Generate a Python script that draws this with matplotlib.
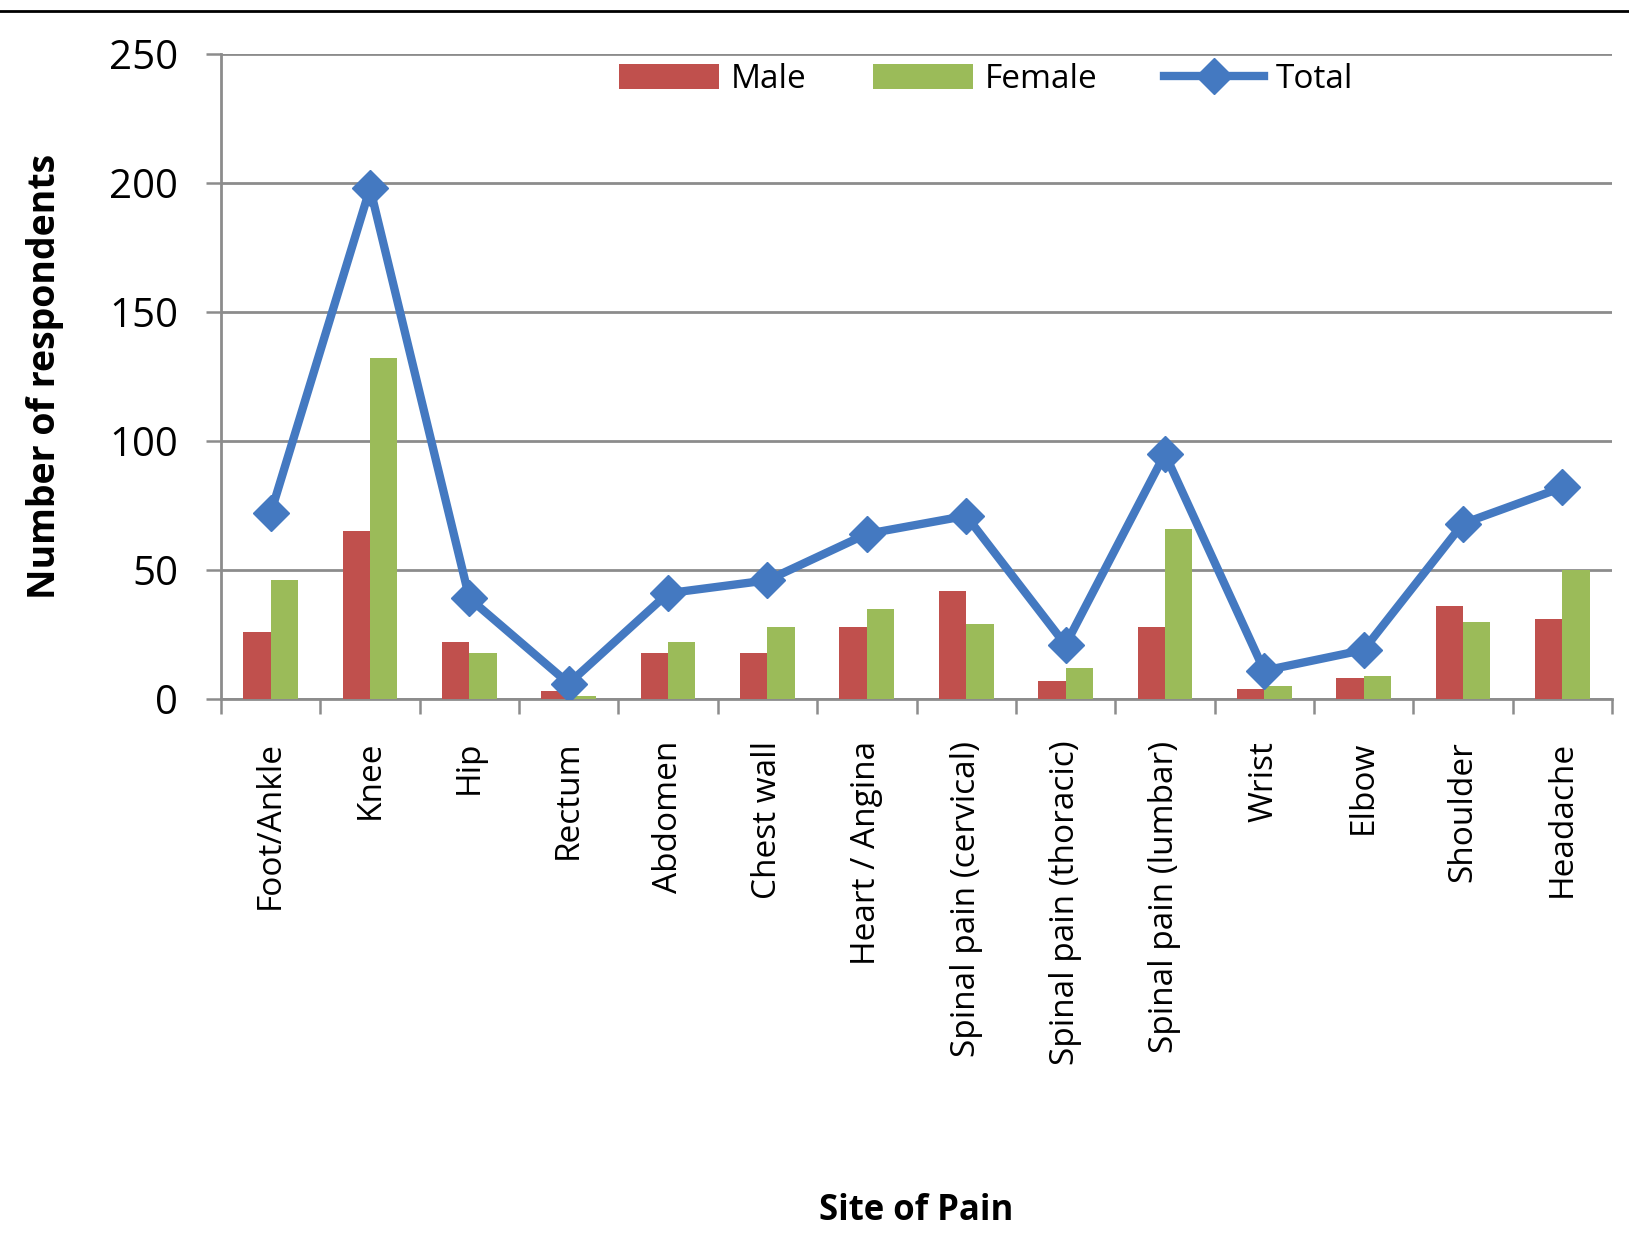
import matplotlib
matplotlib.use("Agg")
import matplotlib.pyplot as plt
import numpy as np
from matplotlib.lines import Line2D

categories = ["Foot/Ankle", "Knee", "Hip", "Rectum", "Abdomen", "Chest wall",
              "Heart / Angina", "Spinal pain (cervical)", "Spinal pain (thoracic)",
              "Spinal pain (lumbar)", "Wrist", "Elbow", "Shoulder", "Headache"]
male = [26, 65, 22, 3, 18, 18, 28, 42, 7, 28, 4, 8, 36, 31]
female = [46, 132, 18, 1, 22, 28, 35, 29, 12, 66, 5, 9, 30, 50]
total = [72, 198, 39, 6, 41, 46, 64, 71, 21, 95, 11, 19, 68, 82]
yticks = [0, 50, 100, 150, 200, 250]

plt.rcParams['font.family'] = ['Open Sans', 'DejaVu Sans']

W, H = 1629, 1251
fig = plt.figure(figsize=(W / 100, H / 100), dpi=100)
ax = fig.add_axes([221 / W, 1 - 699 / H, (1612 - 221) / W, (699 - 54) / H])

x = np.arange(len(categories))
bw = 0.275
b1 = ax.bar(x - bw / 2, male, width=bw, color="#C0504D", label="Male", zorder=3)
b2 = ax.bar(x + bw / 2, female, width=bw, color="#9BBB59", label="Female", zorder=3)
l1, = ax.plot(x, total, color="#4479C1", lw=6, marker="D", ms=18,
              markeredgecolor="#4479C1", label="Total", zorder=4)

ax.set_xlim(-0.5, len(categories) - 0.5)
ax.set_ylim(0, 250)
ax.set_yticks(yticks)
ax.set_yticklabels([str(v) for v in yticks], fontsize=29)
ax.yaxis.grid(True, color="#8C8C8C", lw=2, zorder=0)
ax.set_axisbelow(True)

ax.set_xticks(x)
ax.set_xticklabels(categories, rotation=90, fontsize=24, va="top", ha="center")
ax.tick_params(axis="x", length=0, pad=30)
ax.set_xticks(np.arange(-0.5, len(categories) + 0.5, 1), minor=True)
ax.tick_params(axis="x", which="minor", length=11, width=1.8, color="#8C8C8C", direction="out")
ax.tick_params(axis="y", length=11, width=1.8, color="#8C8C8C", direction="out", pad=20)

for s in ["top", "right"]:
    ax.spines[s].set_visible(False)
for s in ["left", "bottom"]:
    ax.spines[s].set_color("#8C8C8C")
    ax.spines[s].set_linewidth(2)

ax.set_ylabel("Number of respondents", fontsize=27, fontweight="bold")
ax.yaxis.set_label_coords(-0.113, 0.5)
ax.set_xlabel("Site of Pain", fontsize=25, fontweight="bold")
ax.xaxis.set_label_coords(0.5, -(1211 - 699) / (699 - 54))
ax.xaxis.label.set_va("center")

leg = ax.legend(handles=[b1, b2, l1], labels=["Male", "Female", "Total"],
                loc="center", bbox_to_anchor=(0.55, 0.96), ncol=3, frameon=False,
                fontsize=24, handlelength=3.0, handleheight=0.75, columnspacing=2.0,
                handletextpad=0.35, borderaxespad=0)

fig.add_artist(Line2D([0, 1], [1 - 11 / H, 1 - 11 / H], color="black", lw=2,
                      transform=fig.transFigure))

fig.savefig("out.png", dpi=100, facecolor="white")
